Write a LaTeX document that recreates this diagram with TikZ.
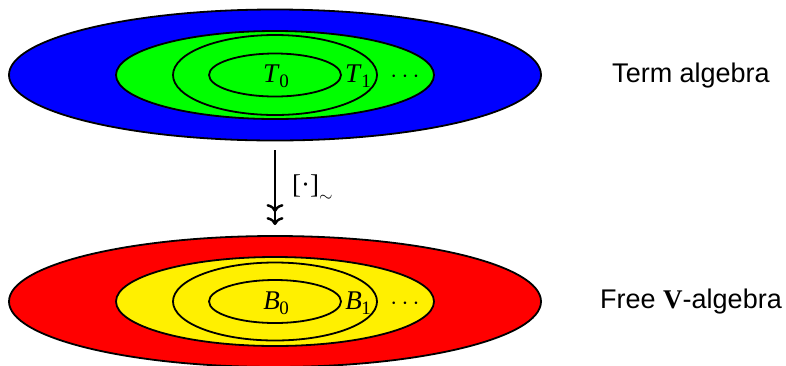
\documentclass[tikz,border=0pt]{standalone}
\usepackage{fontspec}
\setsansfont{Liberation Sans}
\newfontfamily\tms{Liberation Serif}
\usetikzlibrary{shapes.geometric,arrows.meta}
\definecolor{ablue}{RGB}{0,0,255}
\definecolor{agreen}{RGB}{0,255,0}
\definecolor{ared}{RGB}{255,0,0}
\definecolor{ayellow}{RGB}{255,240,0}
\newcommand\subtxt[1]{\raisebox{-0.22em}{\fontsize{19}{19}\selectfont #1}}
\newcommand\symb[2]{{\itshape #1\/}\kern-0.5pt\subtxt{#2}}
\tikzset{
  ell/.style={ellipse, draw=black, line width=1.8pt, inner sep=0pt},
  lbl/.style={font=\fontsize{27}{32}\selectfont\tms, inner sep=0pt, anchor=base},
  side/.style={font=\fontsize{27}{32}\selectfont\sffamily, inner sep=0pt, anchor=base},
}
\begin{document}
\begin{tikzpicture}[x=1pt,y=-1pt]
\useasboundingbox (0,0) rectangle (786,365);
% top
\node[ell, fill=ablue, minimum width=532pt, minimum height=131pt] (tout) at (275,75) {};
\node[ell, fill=agreen, minimum width=318pt, minimum height=88pt] (tmid) at (275,75) {};
\node[ell, minimum width=204pt, minimum height=80pt] (tring) at (275,75) {};
\node[ell, minimum width=132pt, minimum height=43pt] (tin) at (275,75) {};
\node[lbl] (t0) at (276,82) {\symb{T}{0}};
\node[lbl] (t1) at (358,82) {\symb{T}{1}};
\node[lbl] (tdots) at (405,82) {$\cdots$};
\node[side] (tname) at (691,82) {Term algebra};
% bottom
\node[ell, fill=ared, minimum width=532pt, minimum height=131pt] (bout) at (275,301.5) {};
\node[ell, fill=ayellow, minimum width=318pt, minimum height=89pt] (bmid) at (275,301.5) {};
\node[ell, minimum width=204pt, minimum height=78pt] (bring) at (275,301.5) {};
\node[ell, minimum width=132pt, minimum height=43pt] (bin) at (275,301.5) {};
\node[lbl] (b0) at (276,309) {\symb{B}{0}};
\node[lbl] (b1) at (358,309) {\symb{B}{1}};
\node[lbl] (bdots) at (405,309) {$\cdots$};
\node[side] (bname) at (691,308) {Free {\tms\bfseries V}-algebra};
% arrow
\draw[line width=2.4pt, -{Computer Modern Rightarrow[length=8pt,width=17pt,sep=5pt] Computer Modern Rightarrow[length=8pt,width=17pt]}, shorten <=9pt, shorten >=10pt] (tout) -- node[midway, right=16pt, lbl, anchor=west] (q) {[·]\raisebox{-0.3em}{$\scriptstyle\sim$}} (bout);
\end{tikzpicture}
\end{document}
